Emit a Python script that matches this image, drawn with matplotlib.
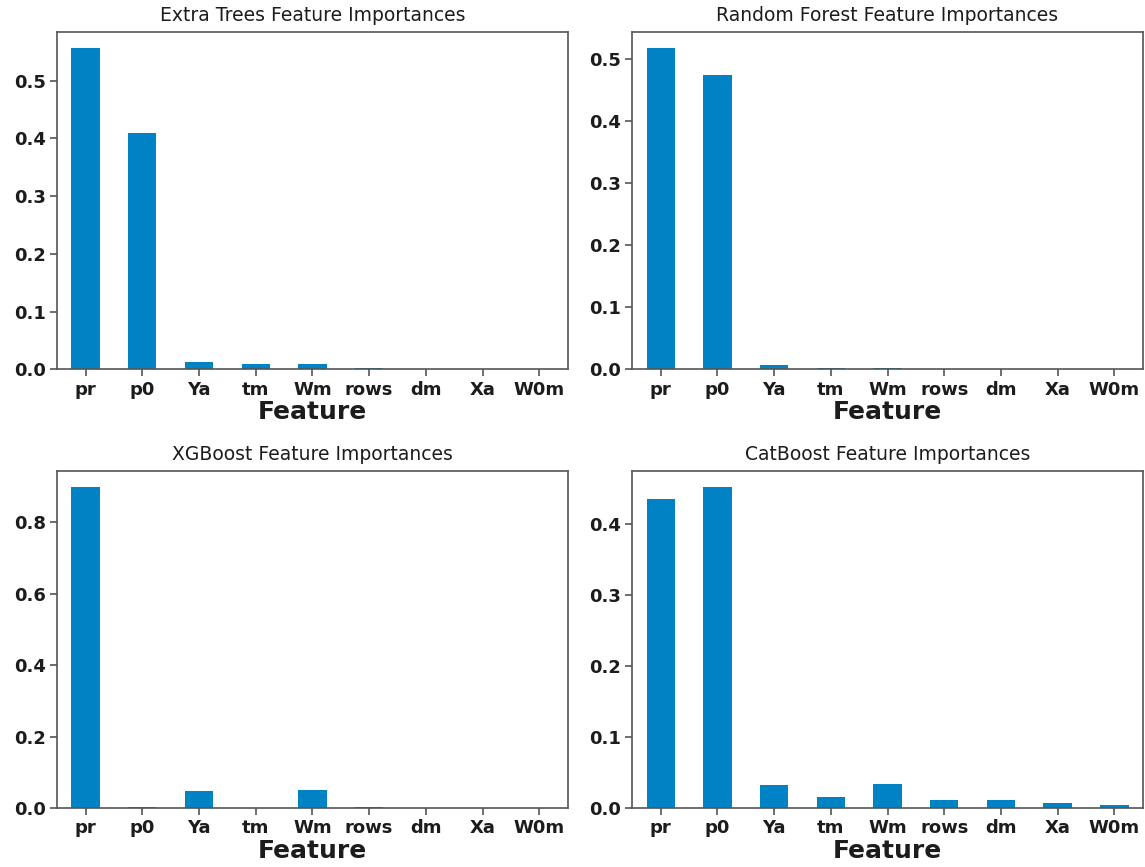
import matplotlib
matplotlib.use("Agg")
import matplotlib.pyplot as plt
import pandas as pd

# Feature order and importances
features = ['pr', 'p0', 'Ya', 'tm', 'Wm', 'rows', 'dm', 'Xa', 'W0m']
extra_trees = [0.556, 0.410, 0.013, 0.010, 0.010, 0.003, 0.0, 0.0, 0.0]
random_forest = [0.517, 0.474, 0.0064, 0.003, 0.003, 0.0005, 0.0, 0.0, 0.0]
xgboost = [0.899, 0.002, 0.047, 0.0, 0.051, 0.002, 0.0, 0.0, 0.0]
catboost = [0.435, 0.452, 0.032, 0.016, 0.034, 0.012, 0.012, 0.0066, 0.0036]

titles = ['Extra Trees Feature Importances', 'Random Forest Feature Importances',
          'XGBoost Feature Importances', 'CatBoost Feature Importances']
bar_color = '#0082C4'
text_color = '#1c1c1c'

plt.rcParams['text.color'] = text_color
plt.rcParams['axes.labelcolor'] = text_color
plt.rcParams['xtick.color'] = text_color
plt.rcParams['ytick.color'] = text_color

fig, axes = plt.subplots(2, 2, figsize=(11.45, 8.67), dpi=100)
fig.subplots_adjust(left=0.05, right=0.998, top=0.963, bottom=0.068,
                    wspace=0.127, hspace=0.30)

for ax, values, title in zip(axes.flat, [extra_trees, random_forest, xgboost, catboost], titles):
    s = pd.Series(values, index=features)
    ax.bar(range(len(s)), s.values, width=0.5, color=bar_color)
    ax.set_xlim(-0.5, len(s) - 0.5)
    ax.set_xticks(range(len(s)))
    ax.set_xticklabels(s.index, rotation=0, fontsize=13, fontweight='bold')
    for lbl in ax.get_yticklabels():
        lbl.set_fontsize(13)
        lbl.set_fontweight('bold')
    ax.set_title(title, fontsize=13.5, pad=8)
    ax.set_xlabel('Feature', fontsize=18, fontweight='bold', labelpad=1)
    for sp in ax.spines.values():
        sp.set_color('#555555')
        sp.set_linewidth(1.2)
    ax.tick_params(axis='both', length=5, width=1.2, color='#555555', pad=3)

plt.savefig('out.png', dpi=100)
